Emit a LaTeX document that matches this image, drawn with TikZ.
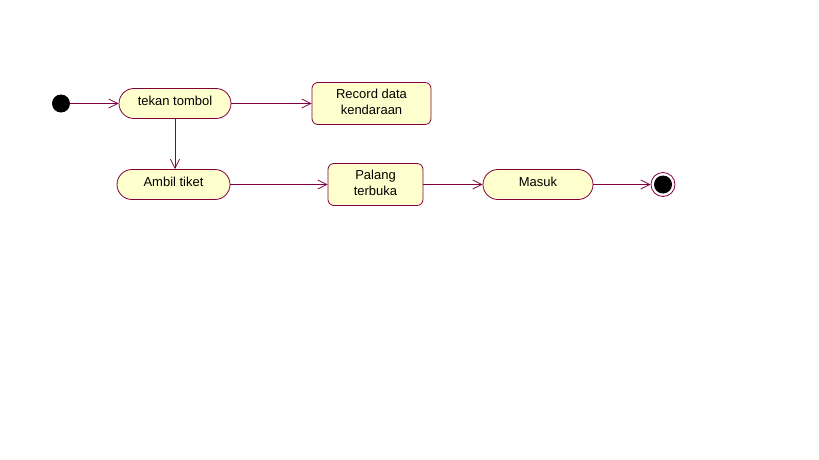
\documentclass[tikz,border=0pt]{standalone}
\usepackage{fontspec}
\setmainfont{Liberation Sans}
\usetikzlibrary{arrows.meta}
\definecolor{umlfill}{RGB}{255,255,206}
\definecolor{umlline}{RGB}{128,0,64}
\begin{document}
\begin{tikzpicture}[x=1pt,y=-1pt,
  every node/.style={font=\fontsize{13}{17}\selectfont},
  pill/.style={draw=umlline,fill=umlfill,line width=0.8pt,rounded corners=15pt,minimum height=30pt,inner sep=0pt},
  actbox/.style={draw=umlline,fill=umlfill,line width=0.8pt,rounded corners=6pt,minimum height=42pt,inner sep=0pt,align=center},
  flow/.style={draw=umlline,line width=0.8pt,-{Straight Barb[length=9pt,width=9pt,line width=0.8pt]}}]
\useasboundingbox (0,0) rectangle (819,460);
\node[circle,fill=black,minimum size=18pt,inner sep=0pt] (start) at (61,103.5) {};
\node[pill,minimum width=112pt] (tekan) at (175,103.5) {\raisebox{6pt}{tekan tombol}};
\node[actbox,minimum width=119pt] (record) at (371.5,103.5) {\raisebox{2pt}{\begin{tabular}{@{}c@{}}Record data\\[-1pt]kendaraan\end{tabular}}};
\node[pill,minimum width=113pt] (ambil) at (173.5,184.5) {\raisebox{6pt}{Ambil tiket}};
\node[actbox,minimum width=95pt] (palang) at (375.5,184.5) {\raisebox{1pt}{\begin{tabular}{@{}c@{}}Palang\\[-1pt]terbuka\end{tabular}}};
\node[pill,minimum width=110pt] (masuk) at (538,184.5) {\raisebox{6pt}{Masuk}};
\node[circle,draw=umlline,fill=white,line width=0.8pt,minimum size=24pt,inner sep=0pt] (end) at (663,184.5) {};
\node[circle,fill=black,minimum size=18pt,inner sep=0pt] (endin) at (663,184.5) {};
\draw[flow] (start) -- (tekan);
\draw[flow] (tekan) -- (record);
\draw[flow] (tekan.south) -- (tekan.south |- ambil.north);
\draw[flow] (ambil) -- (palang);
\draw[flow] (palang) -- (masuk);
\draw[flow] (masuk) -- (end);
\end{tikzpicture}
\end{document}
